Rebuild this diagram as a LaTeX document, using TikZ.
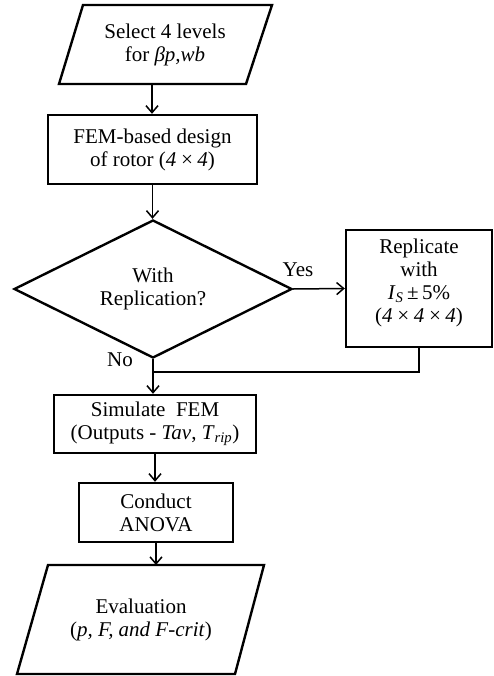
\documentclass[tikz,border=0pt]{standalone}
\usepackage{fontspec}
\setmainfont{Liberation Serif}
\usetikzlibrary{shapes.geometric,arrows.meta}

\tikzset{
  box/.style={draw, line width=2.4pt, align=center, inner sep=0pt},
  flow/.style={line width=1.5pt, -{Straight Barb[length=7pt,width=12pt]}},
  link/.style={line width=1.5pt},
  label/.style={inner sep=0.75pt, align=center}
}

\begin{document}
\begin{tikzpicture}[x=1pt,y=1pt,yscale=-1,xscale=1,font=\fontsize{21}{23}\selectfont]
\useasboundingbox (0,0) rectangle (494,676);

%Shape: Parallelogram [select levels]
\draw [line width=2.4pt] (83,5) -- (272,5) -- (246,84) -- (59,84) -- cycle;
\coordinate (selB) at (152,84);
% Text Node
\node (sel) at (165,45) [label] {Select 4 levels\\for \textit{βp,wb}};

%Shape: Rectangle [fem design]
\node (fem) at (152.5,149.5) [box, minimum width=209, minimum height=69] {FEM-based design\\of rotor (\textit{4\,×\,4})};

%Shape: Diamond [replication?]
\node (ask) at (153,289) [draw, diamond, line width=2.4pt, aspect=2, inner sep=0pt, minimum width=278, minimum height=138, align=center] {With\\Replication?};

%Shape: Rectangle [replicate]
\node (rep) at (419,288.5) [box, minimum width=146, minimum height=117] {Replicate\\with\\\textit{I}\textsubscript{\textit{S}}\,±\,5\%\\(\textit{4\,×\,4\,×\,4})\\[-8pt]};

%Shape: Rectangle [simulate]
\node (sim) at (155,424) [box, minimum width=202, minimum height=58] {Simulate\ \ FEM\\(Outputs - \textit{Tav}, \textit{T}\textsubscript{\textit{rip}})};

%Shape: Rectangle [anova]
\node (anova) at (156,512.5) [box, minimum width=154, minimum height=59] {Conduct\\ANOVA};

%Shape: Parallelogram [evaluation]
\draw [line width=2.4pt] (48,565) -- (264,565) -- (235,674) -- (17,674) -- cycle;
\coordinate (evalT) at (156,565);
% Text Node
\node (eval) at (141,620) [label] {Evaluation\\(\textit{p, F, and F-crit})};

% Text Node
\node (yes) at (298,270) [label] {Yes};
% Text Node
\node (no) at (120,360) [label] {No};

%Straight Lines
\coordinate (merge) at (153,372);
\draw [flow] (selB) -- (selB |- fem.north);
\draw [flow] (fem.south) -- (fem.south |- ask.north);
\draw [flow] (ask.east) -- (rep.west);
\draw [flow] (ask.south) -- (ask.south |- sim.north);
\draw [link] (rep.south) |- (merge);
\draw [flow] (sim.south) -- (sim.south |- anova.north);
\draw [flow] (anova.south) -- (evalT);

\end{tikzpicture}
\end{document}
